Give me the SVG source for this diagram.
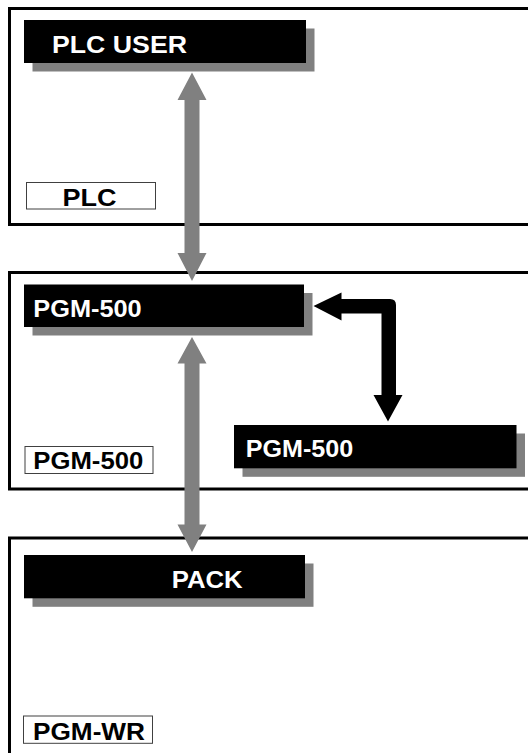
<svg xmlns="http://www.w3.org/2000/svg" width="528" height="753" viewBox="0 0 528 753">
<style>
.panel{fill:#fff;stroke:#000;stroke-width:3}
.bar{fill:#000}
.shadow{fill:#808080}
.lbl{fill:#fff;stroke:#404040;stroke-width:1}
.t{font-family:"Liberation Sans",Arial,sans-serif;font-weight:bold}
.tw{fill:#fff;font-size:24px}
.tb{fill:#000;font-size:23px}
.garrow{fill:#808080}
.barrow{fill:#000}
</style>
<g id="panel-plc">
<rect class="panel" x="9.5" y="8.5" width="530" height="216"/>
<rect class="lbl" x="26.5" y="182.5" width="129" height="26.5"/>
<text class="t tb" x="62.5" y="206" textLength="54" lengthAdjust="spacingAndGlyphs">PLC</text>
</g>
<g id="panel-pgm500">
<rect class="panel" x="9.5" y="272.5" width="530" height="216.5"/>
<rect class="lbl" x="25" y="446.5" width="128" height="27"/>
<text class="t tb" x="33.3" y="469.3" textLength="110" lengthAdjust="spacingAndGlyphs">PGM-500</text>
</g>
<g id="panel-pgmwr">
<rect class="panel" x="9.5" y="538" width="530" height="300"/>
<rect class="lbl" x="23.5" y="716" width="129" height="27.3"/>
<text class="t tb" x="33" y="740" textLength="112" lengthAdjust="spacingAndGlyphs">PGM-WR</text>
</g>
<g id="node-plc-user">
<rect class="shadow" x="32.5" y="28.5" width="282" height="43"/>
<rect class="bar" x="24" y="20" width="282" height="43"/>
<text class="t tw" x="52" y="52.7" textLength="135" lengthAdjust="spacingAndGlyphs">PLC USER</text>
</g>
<g id="node-pgm500-a">
<rect class="shadow" x="32.5" y="293" width="280" height="42.5"/>
<rect class="bar" x="24" y="284.5" width="280" height="42.5"/>
<text class="t tw" x="33.3" y="317.3" textLength="108.4" lengthAdjust="spacingAndGlyphs">PGM-500</text>
</g>
<g id="node-pgm500-b">
<rect class="shadow" x="242.5" y="433.5" width="282.5" height="43.3"/>
<rect class="bar" x="234" y="425" width="282.5" height="43.3"/>
<text class="t tw" x="245.7" y="456.7" textLength="107.6" lengthAdjust="spacingAndGlyphs">PGM-500</text>
</g>
<g id="node-pack">
<rect class="shadow" x="32.5" y="563.5" width="281" height="43.3"/>
<rect class="bar" x="24" y="555" width="281" height="43.3"/>
<text class="t tw" x="171.7" y="587.7" textLength="71" lengthAdjust="spacingAndGlyphs">PACK</text>
</g>
<g id="connectors">
<polygon class="garrow" points="192,72.5 206.5,100 199.5,100 199.5,253 206.5,253 192,281 177.5,253 184.5,253 184.5,100 177.5,100"/>
<polygon class="garrow" points="192,337 206.5,363.5 199.5,363.5 199.5,524.5 206.5,524.5 192,552 177.5,524.5 184.5,524.5 184.5,363.5 177.5,363.5"/>
<path class="barrow" d="M313.5,306 L341.5,292.5 L341.5,299 L390,299 Q396,299 396,305 L396,395 L402.5,395 L388,421.5 L373.5,395 L381.5,395 L381.5,313.5 L341.5,313.5 L341.5,320.5 Z"/>
</g>
</svg>
